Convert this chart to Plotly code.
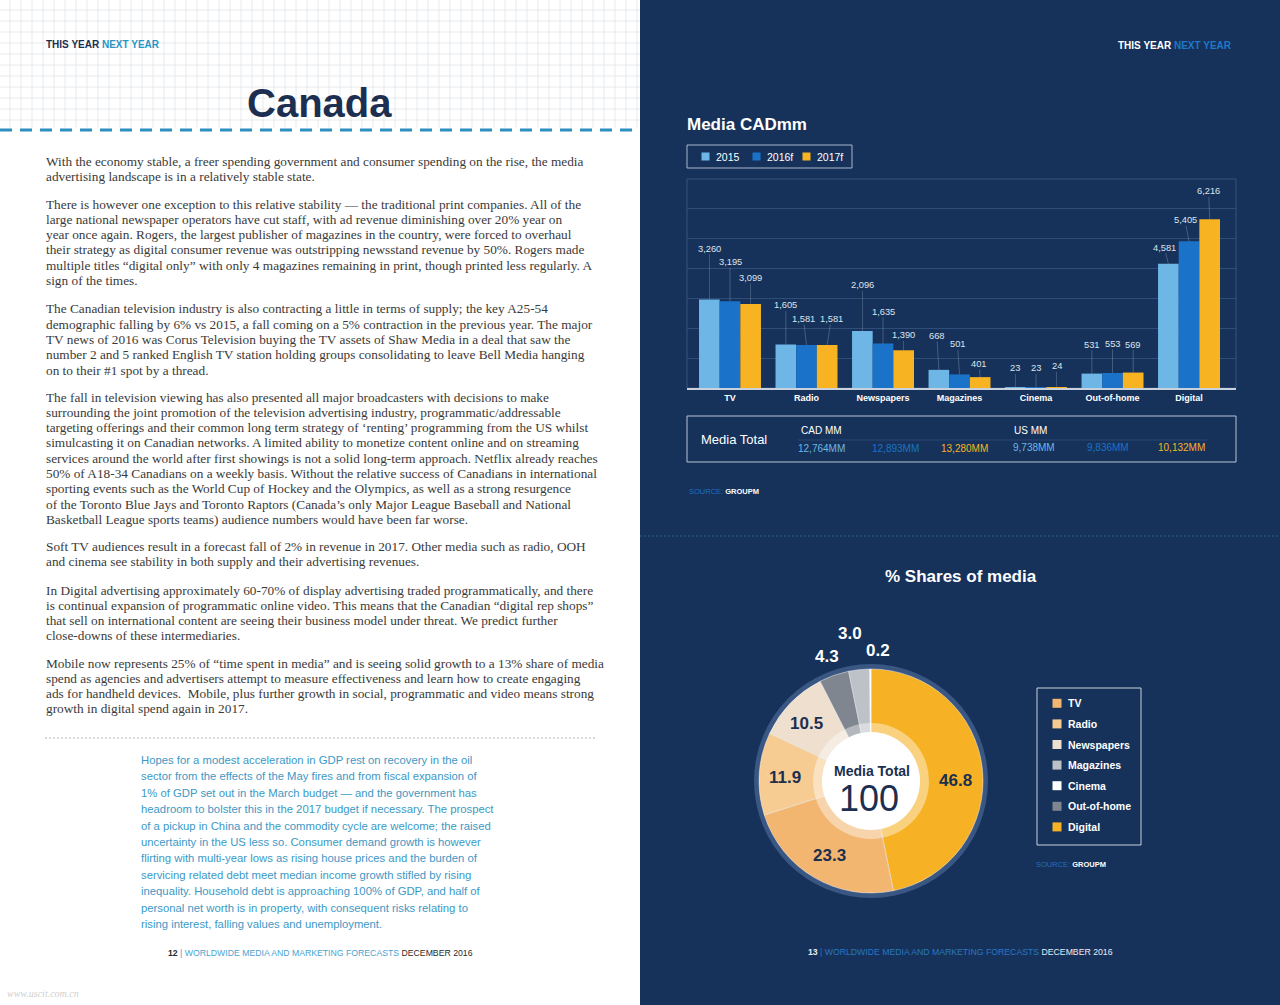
import plotly.graph_objects as go

W, H = 1280, 1005

# ---------------- data ----------------
categories = ["TV", "Radio", "Newspapers", "Magazines", "Cinema", "Out-of-home", "Digital"]
series_names = ["2015", "2016f", "2017f"]
values_2015 = [3260, 1605, 2096, 668, 23, 531, 4581]
values_2016 = [3195, 1581, 1635, 501, 23, 553, 5405]
values_2017 = [3099, 1581, 1390, 401, 24, 569, 6216]
total_cad = ["12,764MM", "12,893MM", "13,280MM"]
total_us = ["9,738MM", "9,836MM", "10,132MM"]

share_labels = ["TV", "Radio", "Newspapers", "Magazines", "Cinema", "Out-of-home", "Digital"]
share_values = [23.3, 11.9, 10.5, 3.0, 0.2, 4.3, 46.8]
media_total_share = "100"

body_paragraphs = [
    ["With the economy stable, a freer spending government and consumer spending on the rise, the media",
     "advertising landscape is in a relatively stable state."],
    ["There is however one exception to this relative stability \u2014 the traditional print companies. All of the",
     "large national newspaper operators have cut staff, with ad revenue diminishing over 20% year on",
     "year once again. Rogers, the largest publisher of magazines in the country, were forced to overhaul",
     "their strategy as digital consumer revenue was outstripping newsstand revenue by 50%. Rogers made",
     "multiple titles \u201cdigital only\u201d with only 4 magazines remaining in print, though printed less regularly. A",
     "sign of the times."],
    ["The Canadian television industry is also contracting a little in terms of supply; the key A25-54",
     "demographic falling by 6% vs 2015, a fall coming on a 5% contraction in the previous year. The major",
     "TV news of 2016 was Corus Television buying the TV assets of Shaw Media in a deal that saw the",
     "number 2 and 5 ranked English TV station holding groups consolidating to leave Bell Media hanging",
     "on to their #1 spot by a thread."],
    ["The fall in television viewing has also presented all major broadcasters with decisions to make",
     "surrounding the joint promotion of the television advertising industry, programmatic/addressable",
     "targeting offerings and their common long term strategy of \u2018renting\u2019 programming from the US whilst",
     "simulcasting it on Canadian networks. A limited ability to monetize content online and on streaming",
     "services around the world after first showings is not a solid long-term approach. Netflix already reaches",
     "50% of A18-34 Canadians on a weekly basis. Without the relative success of Canadians in international",
     "sporting events such as the World Cup of Hockey and the Olympics, as well as a strong resurgence",
     "of the Toronto Blue Jays and Toronto Raptors (Canada\u2019s only Major League Baseball and National",
     "Basketball League sports teams) audience numbers would have been far worse."],
    ["Soft TV audiences result in a forecast fall of 2% in revenue in 2017. Other media such as radio, OOH",
     "and cinema see stability in both supply and their advertising revenues."],
    ["In Digital advertising approximately 60-70% of display advertising traded programmatically, and there",
     "is continual expansion of programmatic online video. This means that the Canadian \u201cdigital rep shops\u201d",
     "that sell on international content are seeing their business model under threat. We predict further",
     "close-downs of these intermediaries."],
    ["Mobile now represents 25% of \u201ctime spent in media\u201d and is seeing solid growth to a 13% share of media",
     "spend as agencies and advertisers attempt to measure effectiveness and learn how to create engaging",
     "ads for handheld devices.  Mobile, plus further growth in social, programmatic and video means strong",
     "growth in digital spend again in 2017."],
]

sidebar_lines = [
    "Hopes for a modest acceleration in GDP rest on recovery in the oil",
    "sector from the effects of the May fires and from fiscal expansion of",
    "1% of GDP set out in the March budget \u2014 and the government has",
    "headroom to bolster this in the 2017 budget if necessary. The prospect",
    "of a pickup in China and the commodity cycle are welcome; the raised",
    "uncertainty in the US less so. Consumer demand growth is however",
    "flirting with multi-year lows as rising house prices and the burden of",
    "servicing related debt meet median income growth stifled by rising",
    "inequality. Household debt is approaching 100% of GDP, and half of",
    "personal net worth is in property, with consequent risks relating to",
    "rising interest, falling values and unemployment.",
]

# ---------------- styles / layout constants ----------------
SANS = "Liberation Sans"
SERIF = "Liberation Serif"
NAVY_BG = "#16325a"
TITLE_NAVY = "#1c2f50"
series_colors = ["#6db6e6", "#1a72c9", "#f8b323"]
share_colors = {"TV": "#f2b670", "Radio": "#f6cc92", "Newspapers": "#eedfcf",
                "Magazines": "#bdc1c8", "Cinema": "#ffffff", "Out-of-home": "#7f868f",
                "Digital": "#f6b224"}
pie_order = ["Digital", "TV", "Radio", "Newspapers", "Out-of-home", "Magazines", "Cinema"]
# pixel lift of each value label above its bar (leader line length) and small x nudges
label_lift = [[-51, -39, -26], [-39, -26, -26], [-46, -32, -15], [-34, -30, -13],
              [-19, -19, -21], [-29, -29, -28], [-16, -21, -28]]
label_xshift = [[0, 0, 0], [0, -3, 4], [0, 0, 0], [-2, -2, -1],
                [0, 0, 0], [0, 0, 0], [-4, -4, -1]]
bar_offsets = [-0.27, 0.0, 0.27]
# pixel positions of the share labels (centre)
share_label_pos = {"TV": (829, 855, "#1d2f4e"), "Radio": (785, 777, "#1d2f4e"),
                   "Newspapers": (806, 723, "#1d2f4e"), "Magazines": (850, 633, "white"),
                   "Cinema": (878, 650, "white"), "Out-of-home": (827, 656, "white"),
                   "Digital": (955, 780, "#1d2f4e")}
para_start_y = [161, 204, 309, 397, 546, 590, 663]
LINE_H = 15.3

PLOT_L, PLOT_R, PLOT_T, PLOT_B = 687, 1236, 179, 388
PIE_CX, PIE_CY, PIE_R = 871, 781, 112


def px(x):
    return x / W


def py(y):
    return 1 - y / H


def txt(x, y, s, size, color, anchor="left", family=SANS, vanchor="middle"):
    return dict(xref="paper", yref="paper", x=px(x), y=py(y), text=s, showarrow=False,
                xanchor=anchor, yanchor=vanchor, font=dict(family=family, size=size, color=color),
                borderpad=0)


def rect(x0, y0, x1, y1, fill=None, line_color=None, lw=0, layer="below", dash=None):
    d = dict(type="rect", xref="paper", yref="paper", x0=px(x0), x1=px(x1), y0=py(y1), y1=py(y0),
             layer=layer, line=dict(width=lw, color=line_color or "rgba(0,0,0,0)"))
    if dash:
        d["line"]["dash"] = dash
    if fill:
        d["fillcolor"] = fill
    return d


def hline(x0, x1, y, color, lw=1, dash=None, layer="below"):
    d = dict(type="line", xref="paper", yref="paper", x0=px(x0), x1=px(x1), y0=py(y), y1=py(y),
             layer=layer, line=dict(color=color, width=lw))
    if dash:
        d["line"]["dash"] = dash
    return d


def vline(x, y0, y1, color, lw=1, layer="below"):
    return dict(type="line", xref="paper", yref="paper", x0=px(x), x1=px(x), y0=py(y0), y1=py(y1),
                layer=layer, line=dict(color=color, width=lw))


def circle(cx, cy, r, fill, layer="below", line_color=None, lw=0):
    return dict(type="circle", xref="paper", yref="paper", x0=px(cx - r), x1=px(cx + r),
                y0=py(cy + r), y1=py(cy - r), fillcolor=fill, layer=layer,
                line=dict(width=lw, color=line_color or "rgba(0,0,0,0)"))


shapes = []
annotations = []

# ---- page backgrounds ----
shapes.append(rect(0, 0, 640, H, fill="white"))
shapes.append(rect(640, 0, W, H, fill=NAVY_BG))
# graph paper grid on left header
gx = 10
while gx < 640:
    shapes.append(vline(gx, 0, 128, "#e2e5ea", 0.8))
    gx += 11
gy = 10
while gy < 128:
    shapes.append(hline(0, 640, gy, "#e2e5ea", 0.8))
    gy += 11
shapes.append(hline(0, 640, 130, "#2b8fbf", 3, dash="12px,8px"))
shapes.append(hline(45, 595, 738, "#9aa3ad", 0.8, dash="2px,2px"))
shapes.append(hline(640, W, 536, "#2d5d92", 1.2, dash="2px,2px"))

# ---- headers / titles ----
annotations.append(txt(45, 44, "<b>THIS YEAR <span style='color:#2a94c4'>NEXT YEAR</span></b>", 10, TITLE_NAVY))
annotations.append(txt(1233, 46, "<b>THIS YEAR <span style='color:#1f78c8'>NEXT YEAR</span></b>", 10, "white", anchor="right"))
annotations.append(txt(319, 103, "<b>Canada</b>", 40, TITLE_NAVY, anchor="center"))
annotations.append(txt(686, 125, "<b>Media CADmm</b>", 17, "white"))
annotations.append(txt(961, 576, "<b>% Shares of media</b>", 17, "white", anchor="center"))

# ---- body text ----
for start, para in zip(para_start_y, body_paragraphs):
    for i, line in enumerate(para):
        annotations.append(txt(45, start + i * LINE_H, line, 13.3, "#3a3a3a", family=SERIF))
for i, line in enumerate(sidebar_lines):
    annotations.append(txt(140, 760 + i * 16.4, line, 11.3, "#3c99c6"))

# ---- footers ----
annotations.append(txt(167, 953, "<b>12</b> <span style='color:#4aa3cf'>| WORLDWIDE MEDIA AND MARKETING FORECASTS</span> DECEMBER 2016", 8.7, "#2a2a2a"))
annotations.append(txt(807, 952, "<b>13</b> <span style='color:#2a78c0'>| WORLDWIDE MEDIA AND MARKETING FORECASTS</span> DECEMBER 2016", 8.7, "#e8ecf2"))
annotations.append(txt(6, 993, "<i>www.uscit.com.cn</i>", 10, "#cfcfcf", family=SERIF))

# ---- bar chart ----
fig = go.Figure()
all_values = [values_2015, values_2016, values_2017]
xs = list(range(len(categories)))
for name, vals, col in zip(series_names, all_values, series_colors):
    fig.add_trace(go.Bar(x=xs, y=vals, name=name, marker=dict(color=col, line=dict(width=0)),
                         showlegend=False, hoverinfo="skip"))

for si, vals in enumerate(all_values):
    for ci, v in enumerate(vals):
        annotations.append(dict(xref="x", yref="y", x=ci + bar_offsets[si], y=v, text=f"{v:,}",
                                showarrow=True, arrowhead=0, arrowwidth=0.6,
                                arrowcolor="rgba(200,210,225,0.45)", ax=label_xshift[ci][si],
                                ay=label_lift[ci][si],
                                font=dict(family=SANS, size=9.3, color="#dfe4ec"), borderpad=0))

# plot frame
shapes.append(rect(PLOT_L, PLOT_T, PLOT_R, PLOT_B, line_color="#33527e", lw=1))

# bar legend
shapes.append(rect(687, 145, 852, 168, line_color="#a9b6c8", lw=1))
leg_sq_x = [701.5, 752.5, 802.5]
for name, col, sx in zip(series_names, series_colors, leg_sq_x):
    shapes.append(rect(sx, 152.5, sx + 8, 160.5, fill=col))
    annotations.append(txt(sx + 13, 156.5, name, 10.5, "white"))

# media total box
shapes.append(rect(687, 416, 1236, 462, line_color="#b8c3d2", lw=1))
shapes.append(hline(798, 1207, 440, "#2e4d78", 0.8))
annotations.append(txt(700, 439, "Media Total", 13, "white"))
annotations.append(txt(800, 430, "CAD MM", 10, "white"))
annotations.append(txt(1013, 430, "US MM", 10, "white"))
for val, x, col in zip(total_cad, [797, 871, 940], series_colors):
    annotations.append(txt(x, 448, val, 10, col))
for val, x, col in zip(total_us, [1012, 1086, 1157], series_colors):
    annotations.append(txt(x, 447, val, 10, col))
annotations.append(txt(688, 492, "<span style='color:#1f6fbf'>SOURCE:</span> <b>GROUPM</b>", 7.5, "white"))

# ---- donut ----
shapes.append(circle(PIE_CX, PIE_CY, PIE_R + 5, "#3a5682"))
pie_vals = [share_values[share_labels.index(n)] for n in pie_order]
fig.add_trace(go.Pie(labels=pie_order, values=pie_vals, sort=False, direction="clockwise",
                     rotation=0, hole=0.43, textinfo="none", hoverinfo="skip", showlegend=False,
                     marker=dict(colors=[share_colors[n] for n in pie_order],
                                 line=dict(color="rgba(255,255,255,0.55)", width=0.8)),
                     domain=dict(x=[px(PIE_CX - PIE_R), px(PIE_CX + PIE_R)],
                                 y=[py(PIE_CY + PIE_R), py(PIE_CY - PIE_R)])))
shapes.append(circle(PIE_CX, PIE_CY, 58, "rgba(255,255,255,0.42)", layer="above"))
shapes.append(circle(PIE_CX, PIE_CY, 49, "white", layer="above"))
for n, v in zip(share_labels, share_values):
    x, y, col = share_label_pos[n]
    annotations.append(txt(x, y, f"<b>{v:.1f}</b>", 17, col, anchor="center"))
annotations.append(txt(872, 771, "<b>Media Total</b>", 14, TITLE_NAVY, anchor="center"))
annotations.append(txt(869, 798, media_total_share, 36, TITLE_NAVY, anchor="center"))

# pie legend
shapes.append(rect(1037, 688, 1141, 845, line_color="#c9d1dc", lw=1))
leg_y = [703.3, 723.9, 744.5, 765.1, 785.7, 806.3, 826.9]
for n, y in zip(share_labels, leg_y):
    shapes.append(rect(1052.5, y - 4.5, 1061.5, y + 4.5, fill=share_colors[n]))
    annotations.append(txt(1066.5, y, f"<b>{n}</b>", 10.5, "white"))
annotations.append(txt(1035, 864, "<span style='color:#1f6fbf'>SOURCE:</span> <b>GROUPM</b>", 7.5, "white"))

fig.update_layout(
    width=W, height=H, margin=dict(l=0, r=0, t=0, b=0), autosize=False,
    paper_bgcolor="white", plot_bgcolor="rgba(0,0,0,0)",
    barmode="group", bargap=0.19, bargroupgap=0,
    xaxis=dict(domain=[px(PLOT_L), px(PLOT_R)], range=[-0.562, 6.614], tickmode="array",
               tickvals=xs, ticktext=[f"<b>{c}</b>" for c in categories],
               tickfont=dict(family=SANS, size=9, color="white"), ticks="", showgrid=False,
               zeroline=False, showline=True, linecolor="#c9d1dd", linewidth=2, fixedrange=True),
    yaxis=dict(domain=[py(PLOT_B), py(PLOT_T)], range=[0, 7700], dtick=1100, showgrid=True,
               gridcolor="#2f4d79", gridwidth=1, showticklabels=False, zeroline=False,
               showline=False, ticks="", fixedrange=True),
    shapes=shapes, annotations=annotations,
)

fig.write_html("out.html", config={"displayModeBar": False},
               post_script="document.body.style.margin='0px';document.body.style.overflow='hidden';")
